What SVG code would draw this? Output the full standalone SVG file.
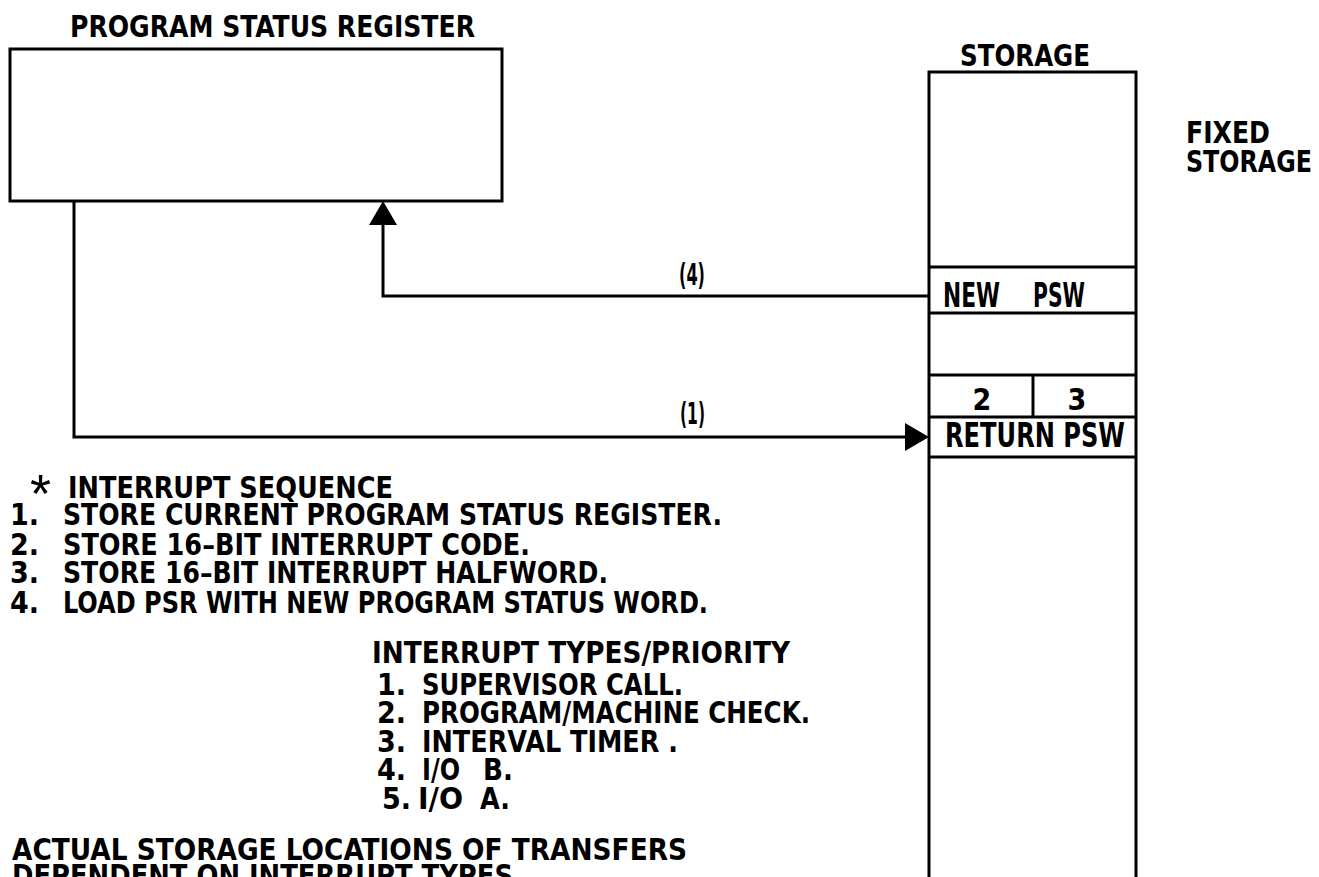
<svg xmlns="http://www.w3.org/2000/svg" width="1319" height="877" viewBox="0 0 1319 877">
  <style>
    .t { font-family: "Liberation Sans Narrow", "DejaVu Sans Condensed", "Liberation Sans", sans-serif; font-weight: bold; font-size: 30px; fill: #000; }
    .b { font-size: 33px; }
    .ln { stroke: #000; stroke-width: 3; fill: none; }
    .box { stroke: #000; stroke-width: 3; fill: #fff; }
  </style>
  <defs>
    <marker id="ah" markerUnits="userSpaceOnUse" markerWidth="24" markerHeight="28" refX="14" refY="14" orient="auto" viewBox="0 0 24 28">
      <path d="M0,0 L24,14 L0,28 z" fill="#000"/>
    </marker>
  </defs>
  <rect width="1319" height="877" fill="#fff"/>

  <g id="psr">
    <rect class="box" x="10" y="49" width="492" height="152"/>
    <text class="t" x="70" y="37" textLength="405" lengthAdjust="spacingAndGlyphs">PROGRAM STATUS REGISTER</text>
  </g>

  <g id="storage">
    <rect class="box" x="929" y="72" width="207" height="830"/>
    <text class="t" x="960" y="66" textLength="130" lengthAdjust="spacingAndGlyphs">STORAGE</text>
    <line class="ln" x1="929" y1="267" x2="1136" y2="267"/>
    <line class="ln" x1="929" y1="313" x2="1136" y2="313"/>
    <line class="ln" x1="929" y1="375" x2="1136" y2="375"/>
    <line class="ln" x1="929" y1="417" x2="1136" y2="417"/>
    <line class="ln" x1="929" y1="457" x2="1136" y2="457"/>
    <line class="ln" x1="1033" y1="375" x2="1033" y2="417"/>
  </g>

  <g id="new-psw">
    <text class="t b" x="943" y="307" textLength="57" lengthAdjust="spacingAndGlyphs">NEW</text>
    <text class="t b" x="1033" y="307" textLength="52" lengthAdjust="spacingAndGlyphs">PSW</text>
  </g>
  <g id="code-halfword">
    <text class="t" x="982" y="410" text-anchor="middle">2</text>
    <text class="t" x="1077" y="410" text-anchor="middle">3</text>
  </g>
  <g id="return-psw">
    <text class="t b" x="945" y="447" textLength="180" lengthAdjust="spacingAndGlyphs">RETURN PSW</text>
  </g>

  <g id="fixed-storage">
    <text class="t" x="1186" y="143" textLength="84" lengthAdjust="spacingAndGlyphs">FIXED</text>
    <text class="t" x="1186" y="172" textLength="126" lengthAdjust="spacingAndGlyphs">STORAGE</text>
  </g>

  <g id="connectors">
    <path class="ln" d="M74,201 V437 H919" marker-end="url(#ah)"/>
    <path class="ln" d="M929,296 H383 V211" marker-end="url(#ah)"/>
    <text class="t" x="679" y="285" textLength="26" lengthAdjust="spacingAndGlyphs">(4)</text>
    <text class="t" x="680" y="424" textLength="25" lengthAdjust="spacingAndGlyphs">(1)</text>
  </g>

  <g id="interrupt-sequence">
    <text x="30" y="512" style="font-family: 'Liberation Sans', sans-serif; font-size: 54px; font-weight: normal;">*</text>
    <text class="t" x="68" y="498" textLength="325" lengthAdjust="spacingAndGlyphs">INTERRUPT SEQUENCE</text>
    <text class="t" x="10" y="525">1.</text>
    <text class="t" x="63" y="525" textLength="659" lengthAdjust="spacingAndGlyphs">STORE CURRENT PROGRAM STATUS REGISTER.</text>
    <text class="t" x="10" y="555">2.</text>
    <text class="t" x="63" y="555" textLength="467" lengthAdjust="spacingAndGlyphs">STORE 16–BIT INTERRUPT CODE.</text>
    <text class="t" x="10" y="583">3.</text>
    <text class="t" x="63" y="583" textLength="545" lengthAdjust="spacingAndGlyphs">STORE 16–BIT INTERRUPT HALFWORD.</text>
    <text class="t" x="10" y="613">4.</text>
    <text class="t" x="63" y="613" textLength="645" lengthAdjust="spacingAndGlyphs">LOAD PSR WITH NEW PROGRAM STATUS WORD.</text>
  </g>

  <g id="interrupt-types">
    <text class="t" x="372" y="663" textLength="418" lengthAdjust="spacingAndGlyphs">INTERRUPT TYPES/PRIORITY</text>
    <text class="t" x="377" y="695">1.</text>
    <text class="t" x="422" y="695" textLength="261" lengthAdjust="spacingAndGlyphs">SUPERVISOR CALL.</text>
    <text class="t" x="377" y="723">2.</text>
    <text class="t" x="422" y="723" textLength="388" lengthAdjust="spacingAndGlyphs">PROGRAM/MACHINE CHECK.</text>
    <text class="t" x="377" y="752">3.</text>
    <text class="t" x="422" y="752" textLength="256" lengthAdjust="spacingAndGlyphs">INTERVAL TIMER .</text>
    <text class="t" x="377" y="780">4.</text>
    <text class="t" x="422" y="780" textLength="38" lengthAdjust="spacingAndGlyphs">I/O</text>
    <text class="t" x="483" y="780" textLength="30" lengthAdjust="spacingAndGlyphs">B.</text>
    <text class="t" x="382" y="809">5.</text>
    <text class="t" x="418" y="809" textLength="45" lengthAdjust="spacingAndGlyphs">I/O</text>
    <text class="t" x="480" y="809" textLength="30" lengthAdjust="spacingAndGlyphs">A.</text>
  </g>

  <g id="footnote">
    <text class="t" x="12" y="860" textLength="675" lengthAdjust="spacingAndGlyphs">ACTUAL STORAGE LOCATIONS OF TRANSFERS</text>
    <text class="t" x="12" y="886" textLength="501" lengthAdjust="spacingAndGlyphs">DEPENDENT ON INTERRUPT TYPES</text>
  </g>
</svg>
